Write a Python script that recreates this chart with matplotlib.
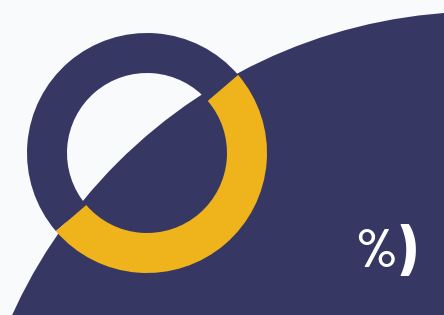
import matplotlib
matplotlib.use("Agg")
import matplotlib.pyplot as plt
from matplotlib.patches import Circle

# Data
labels = ["Other", "Share"]
values = [50, 50]
label_text = "%)"

NAVY = "#363763"
YELLOW = "#EFB31B"
BG = "#F9FAFC"

W, H = 444, 315
fig = plt.figure(figsize=(W / 100, H / 100), dpi=100, facecolor=BG)
ax = fig.add_axes([0, 0, 1, 1])
ax.set_facecolor(BG)

# large background arc
big = Circle((482.3, H - 527.6), 516, facecolor=NAVY, edgecolor="none", zorder=1)
ax.add_patch(big)

# donut
wedges, _ = ax.pie(values, colors=[NAVY, YELLOW], startangle=40.6, counterclock=True,
                   radius=120, center=(147, H - 153),
                   wedgeprops=dict(width=40, edgecolor="none", linewidth=0))
for w in wedges:
    w.set_zorder(2)

fam = ["Barlow Condensed", "DejaVu Sans"]
ax.text(355, H - 267, label_text[0], color="white", fontsize=39, fontweight="semibold",
        family=fam, ha="left", va="baseline", zorder=3)
ax.text(396, H - 270, label_text[1], color="white", fontsize=44, fontweight="bold",
        family=fam, ha="left", va="baseline", zorder=3)

ax.set_xlim(0, W)
ax.set_ylim(0, H)
ax.set_aspect("auto")
ax.axis("off")

fig.savefig("out.png", dpi=100, facecolor=BG)
